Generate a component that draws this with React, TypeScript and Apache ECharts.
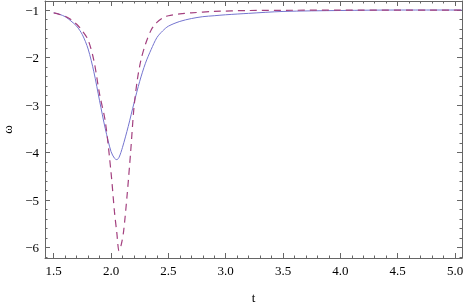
import React, { useEffect, useRef } from "react";
import * as echarts from "echarts";

const solidT = [1.5, 1.55, 1.6, 1.65, 1.7, 1.75, 1.8, 1.85, 1.9, 1.95, 2.0, 2.03, 2.05, 2.07, 2.1, 2.15, 2.2, 2.25, 2.3, 2.35, 2.4, 2.45, 2.5, 2.6, 2.7, 2.8, 2.9, 3.0, 3.2, 3.5, 4.0, 4.5, 5.06];
const solidW = [-1.06, -1.09, -1.14, -1.23, -1.34, -1.52, -1.82, -2.3, -2.91, -3.5, -3.98, -4.12, -4.15, -4.1, -3.89, -3.45, -2.96, -2.5, -2.12, -1.83, -1.58, -1.44, -1.34, -1.24, -1.18, -1.14, -1.12, -1.1, -1.07, -1.03, -1.01, -1.0, -1.0];

const dashT = [1.5, 1.55, 1.6, 1.65, 1.7, 1.75, 1.8, 1.85, 1.9, 1.95, 2.0, 2.03, 2.05, 2.07, 2.09, 2.11, 2.14, 2.17, 2.2, 2.23, 2.26, 2.3, 2.35, 2.4, 2.45, 2.5, 2.6, 2.7, 2.9, 3.2, 3.6, 4.0, 5.06];
const dashW = [-1.06, -1.09, -1.13, -1.2, -1.3, -1.44, -1.63, -2.06, -2.77, -3.35, -4.42, -5.25, -5.68, -6.07, -5.93, -5.65, -4.9, -4.02, -3.05, -2.46, -2.06, -1.72, -1.42, -1.26, -1.17, -1.12, -1.08, -1.06, -1.03, -1.01, -1.005, -1.0, -1.0];

const xMin = 1.424;
const xMax = 5.061;
const yMin = -6.22;
const yMax = -0.81;

const FONT = "Liberation Serif";
const FRAME = "#666666";

export default function App() {
  const ref = useRef<HTMLDivElement>(null);
  useEffect(() => {
    if (!ref.current) return;
    const chart = echarts.init(ref.current, undefined, { renderer: "svg" });
    const tickStyle = {
      axisLine: { show: true, lineStyle: { color: FRAME, width: 1 } },
      axisTick: { show: true, inside: true, length: 5, lineStyle: { color: FRAME } },
      minorTick: { show: true, splitNumber: 5, length: 2.5, lineStyle: { color: FRAME } },
      splitLine: { show: false },
      minorSplitLine: { show: false },
    };
    const labelStyle = { fontFamily: FONT, fontSize: 13, color: "#000" };
    chart.setOption({
      animation: false,
      grid: { left: 45, right: 1, top: 1, bottom: 46, containLabel: false, outerBoundsMode: "none" },
      xAxis: [
        {
          type: "value", min: xMin, max: xMax, splitNumber: 7, position: "bottom",
          ...tickStyle,
          axisLabel: { ...labelStyle, margin: 6, showMinLabel: false, showMaxLabel: false, formatter: (v: number) => v.toFixed(1) },
          name: "t", nameLocation: "middle", nameGap: 33,
          nameTextStyle: { fontFamily: FONT, fontSize: 13, color: "#000" },
        },
        {
          type: "value", min: xMin, max: xMax, splitNumber: 7, position: "top",
          ...tickStyle, axisLabel: { show: false },
        },
      ],
      yAxis: [
        {
          type: "value", min: yMin, max: yMax, splitNumber: 5, position: "left",
          ...tickStyle,
          axisLabel: { ...labelStyle, margin: 6, showMinLabel: false, showMaxLabel: false, formatter: (v: number) => String(Math.round(v)).replace("-", "\u2212") },
          name: "ω", nameLocation: "middle", nameGap: 30, nameRotate: 90,
          nameTextStyle: { fontFamily: FONT, fontSize: 13, color: "#000" },
        },
        {
          type: "value", min: yMin, max: yMax, splitNumber: 5, position: "right",
          ...tickStyle, axisLabel: { show: false },
        },
      ],
      series: [
        {
          type: "line", xAxisIndex: 0, yAxisIndex: 0, showSymbol: false, smooth: 0.3,
          data: solidT.map((t, i) => [t, solidW[i]]),
          lineStyle: { color: "#7474cf", width: 1 },
          clip: true,
        },
        {
          type: "line", xAxisIndex: 0, yAxisIndex: 0, showSymbol: false, smooth: 0.3,
          data: dashT.map((t, i) => [t, dashW[i]]),
          lineStyle: { color: "#a3407f", width: 1.2, type: [7, 5] },
          clip: true,
        },
      ],
    });
    return () => chart.dispose();
  }, []);
  return <div ref={ref} style={{ position: "fixed", left: 0, top: 0, width: 463, height: 304 }} />;
}
